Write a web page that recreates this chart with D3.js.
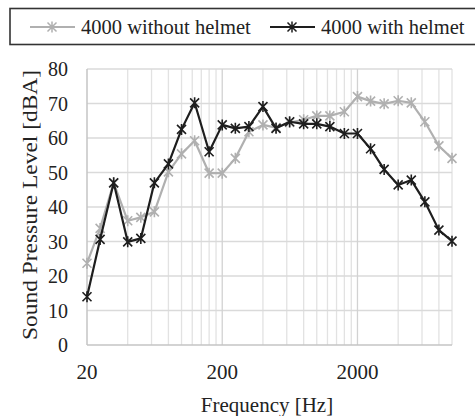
<!DOCTYPE html>
<html>
<head>
<meta charset="utf-8">
<script src="https://cdn.jsdelivr.net/npm/d3@7"></script>
<style>
  body { margin: 0; background: #fff; }
  text { font-family: "Times New Roman", "Liberation Serif", "DejaVu Serif", Times, serif; fill: #222; }
</style>
</head>
<body>
<svg id="chart"></svg>
<script>
var width = 475,
  height = 416,
  margin = {top: 69, right: 23, bottom: 71, left: 87};

// 1/3 octave bands, Hz
var frequencies = [20, 25, 31.5, 40, 50, 63, 80, 100, 125, 160, 200, 250, 315, 400, 500,
  630, 800, 1000, 1250, 1600, 2000, 2500, 3150, 4000, 5000, 6300, 8000, 10000];
var withoutHelmet = [23.7, 33.8, 47.0, 36.0, 37.0, 38.6, 50.2, 55.4, 59.2, 49.8, 49.8, 54.1, 61.8, 63.8, 63.0,
  64.5, 65.3, 66.4, 66.4, 67.6, 72.0, 70.7, 69.9, 70.8, 70.2, 64.7, 57.7, 54.1];
var withHelmet = [14.0, 30.6, 47.0, 29.9, 30.9, 47.0, 52.5, 62.5, 70.2, 56.0, 63.8, 62.8, 63.3, 69.1, 62.8,
  64.7, 64.1, 64.1, 63.3, 61.3, 61.3, 56.9, 50.9, 46.4, 47.8, 41.5, 33.3, 30.1];
var xTickLabels = [20, 200, 2000];
var yTickLabels = [0, 10, 20, 30, 40, 50, 60, 70, 80];
var seriesNames = ['4000 without helmet', '4000 with helmet'];

function draw() {
  var svg, plotW, plotH, x, y, g, minorX, line, series, legend;

  plotW = width - margin.left - margin.right;
  plotH = height - margin.top - margin.bottom;

  svg = d3.select('#chart')
    .attr('width', width)
    .attr('height', height);

  x = d3.scaleLog().domain([20, 10000]).range([0, plotW]);
  y = d3.scaleLinear().domain([0, 80]).range([plotH, 0]);

  g = svg.append('g')
    .attr('transform', 'translate(' + margin.left + ',' + margin.top + ')');

  // minor vertical grid: 20*k, 200*k, 2000*k (Excel style log minor units)
  minorX = [];
  [20, 200, 2000].forEach(function(base) {
    d3.range(2, 10).forEach(function(k) {
      if (base * k <= 10000) minorX.push(base * k);
    });
  });

  g.append('g')
    .selectAll('line')
    .data(minorX)
    .enter()
    .append('line')
    .attr('x1', x).attr('x2', x)
    .attr('y1', 0).attr('y2', plotH)
    .style('stroke', '#e2e2e2')
    .style('stroke-width', 1.3);

  g.append('g')
    .selectAll('line')
    .data(yTickLabels.slice(1))
    .enter()
    .append('line')
    .attr('x1', 0).attr('x2', plotW)
    .attr('y1', y).attr('y2', y)
    .style('stroke', '#dadada')
    .style('stroke-width', 1.3);

  g.append('g')
    .selectAll('line')
    .data(xTickLabels.slice(1))
    .enter()
    .append('line')
    .attr('x1', x).attr('x2', x)
    .attr('y1', 0).attr('y2', plotH)
    .style('stroke', '#d2d2d2')
    .style('stroke-width', 1.3);

  // axis lines
  g.append('line')
    .attr('x1', 0).attr('x2', 0).attr('y1', 0).attr('y2', plotH)
    .style('stroke', '#c4c4c4').style('stroke-width', 1.5);
  g.append('line')
    .attr('x1', 0).attr('x2', plotW).attr('y1', plotH).attr('y2', plotH)
    .style('stroke', '#c4c4c4').style('stroke-width', 1.5);

  // tick labels
  g.append('g')
    .selectAll('text')
    .data(yTickLabels)
    .enter()
    .append('text')
    .attr('x', -19)
    .attr('y', y)
    .attr('dy', '0.35em')
    .attr('text-anchor', 'end')
    .style('font-size', '20px')
    .text(function(d) { return d; });

  g.append('g')
    .selectAll('text')
    .data(xTickLabels)
    .enter()
    .append('text')
    .attr('x', x)
    .attr('y', plotH + 27)
    .attr('dy', '0.35em')
    .attr('text-anchor', 'middle')
    .style('font-size', '21px')
    .text(function(d) { return d; });

  // axis titles
  svg.append('text')
    .attr('x', 267)
    .attr('y', 405)
    .attr('dy', '0.35em')
    .attr('text-anchor', 'middle')
    .style('font-size', '21px')
    .text('Frequency [Hz]');

  svg.append('text')
    .attr('transform', 'translate(30,205) rotate(-90)')
    .attr('dy', '0.35em')
    .attr('text-anchor', 'middle')
    .attr('textLength', 270)
    .attr('lengthAdjust', 'spacingAndGlyphs')
    .style('font-size', '21px')
    .text('Sound Pressure Level [dBA]');

  // series
  series = [
    {name: seriesNames[0], values: withoutHelmet, color: '#b0b0b0'},
    {name: seriesNames[1], values: withHelmet, color: '#1e1e1e'}
  ];

  line = d3.line()
    .x(function(d, i) { return x(frequencies[i]); })
    .y(function(d) { return y(d); });

  series.forEach(function(s) {
    var sg = g.append('g');
    sg.append('path')
      .attr('d', line(s.values))
      .style('fill', 'none')
      .style('stroke', s.color)
      .style('stroke-width', 2.2)
      .style('stroke-linejoin', 'round');

    sg.selectAll('path.marker')
      .data(s.values)
      .enter()
      .append('path')
      .attr('class', 'marker')
      .attr('transform', function(d, i) {
        return 'translate(' + x(frequencies[i]) + ',' + y(d) + ')';
      })
      .attr('d', starPath)
      .style('fill', 'none')
      .style('stroke', s.color)
      .style('stroke-width', 1.6);
  });

  // legend
  legend = svg.append('g');
  legend.append('rect')
    .attr('x', 10).attr('y', 8.5)
    .attr('width', 470).attr('height', 36)
    .style('fill', '#fff')
    .style('stroke', '#333')
    .style('stroke-width', 1.6);

  var legendItems = legend.selectAll('g.item')
    .data(series)
    .enter()
    .append('g')
    .attr('class', 'item')
    .attr('transform', function(d, i) {
      return 'translate(' + (i === 0 ? 30 : 270) + ',27)';
    });

  legendItems.append('line')
    .attr('x1', 0).attr('x2', 45)
    .style('stroke', function(d) { return d.color; })
    .style('stroke-width', 2);
  legendItems.append('path')
    .attr('transform', 'translate(22,0)')
    .attr('d', starPath)
    .style('fill', 'none')
    .style('stroke', function(d) { return d.color; })
    .style('stroke-width', 1.5);
  legendItems.append('text')
    .attr('x', 51)
    .attr('dy', '0.35em')
    .style('font-size', '20.5px')
    .text(function(d) { return d.name; });

  // asterisk-like star marker
  function starPath() {
    var r = 4.5;
    return 'M' + -r + ',' + -r + 'L' + r + ',' + r +
      'M' + -r + ',' + r + 'L' + r + ',' + -r +
      'M0,' + (-r - 1) + 'L0,' + (r + 1);
  }
}

window.onload = draw;
</script>
</body>
</html>
